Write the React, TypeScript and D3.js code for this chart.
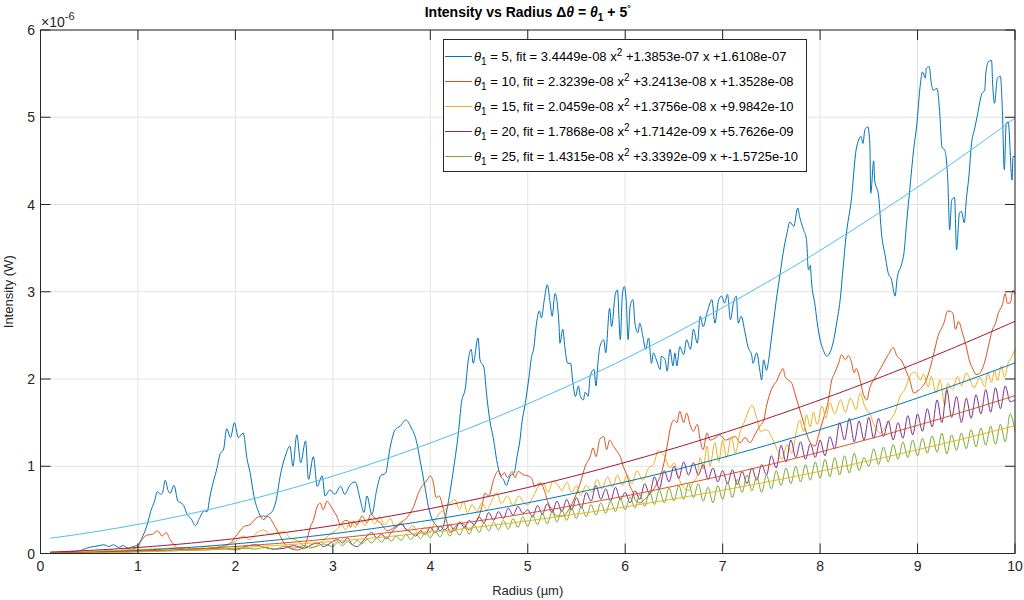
import React from "react";
import * as d3 from "d3";

// ---- data (intensity in units of 1e-6 W, radius in µm) ----
const thetaValues = [5, 10, 15, 20, 25];

const fitA = [3.4449e-8, 2.3239e-8, 2.0459e-8, 1.7868e-8, 1.4315e-8];
const fitB = [1.3853e-7, 3.2413e-8, 1.3756e-8, 1.7142e-9, 3.3392e-9];
const fitC = [1.6108e-7, 1.3528e-8, 9.9842e-10, 5.7626e-9, -1.5725e-10];

const xTicks = [0, 1, 2, 3, 4, 5, 6, 7, 8, 9, 10];
const yTicks = [0, 1, 2, 3, 4, 5, 6];

const theta5: [number, number][] = [
  [0.1, 0.01], [0.2, 0.01], [0.3, 0.02], [0.4, 0.03], [0.45, 0.05], [0.5, 0.07], [0.55, 0.08], [0.6, 0.09],
  [0.65, 0.1], [0.7, 0.08], [0.75, 0.1], [0.8, 0.07], [0.85, 0.09], [0.9, 0.06], [0.95, 0.08], [1.0, 0.1],
  [1.05, 0.2], [1.1, 0.35], [1.13, 0.48], [1.17, 0.6], [1.2, 0.71], [1.23, 0.68], [1.25, 0.69], [1.28, 0.84],
  [1.31, 0.72], [1.33, 0.69], [1.37, 0.78], [1.41, 0.6], [1.44, 0.58], [1.47, 0.55], [1.5, 0.46], [1.55, 0.39],
  [1.59, 0.32], [1.63, 0.4], [1.68, 0.49], [1.71, 0.48], [1.74, 0.66], [1.78, 0.85], [1.81, 0.97], [1.84, 1.13],
  [1.88, 1.2], [1.91, 1.43], [1.95, 1.33], [1.99, 1.5], [2.03, 1.33], [2.08, 1.38], [2.12, 1.08], [2.15, 0.93],
  [2.19, 0.66], [2.24, 0.47], [2.29, 0.39], [2.34, 0.45], [2.37, 0.47], [2.42, 0.62], [2.46, 0.89], [2.51, 1.11],
  [2.56, 1.23], [2.59, 1.0], [2.63, 1.36], [2.67, 1.04], [2.72, 1.29], [2.75, 0.85], [2.8, 1.11], [2.84, 0.77],
  [2.89, 0.89], [2.92, 0.66], [2.97, 0.73], [3.02, 0.68], [3.08, 0.77], [3.12, 0.68], [3.18, 0.79], [3.23, 0.82],
  [3.28, 0.62], [3.32, 0.47], [3.35, 0.66], [3.4, 0.45], [3.45, 0.73], [3.49, 0.89], [3.54, 0.92], [3.59, 1.23],
  [3.64, 1.42], [3.69, 1.46], [3.75, 1.53], [3.8, 1.45], [3.85, 1.32], [3.9, 1.04], [3.95, 0.73], [3.98, 0.54],
  [4.02, 0.39], [4.07, 0.31], [4.1, 0.26], [4.13, 0.3], [4.17, 0.5], [4.24, 0.98], [4.29, 1.4], [4.32, 1.73],
  [4.36, 1.9], [4.39, 2.22], [4.42, 2.34], [4.44, 2.18], [4.49, 2.47], [4.51, 2.22], [4.55, 2.13], [4.58, 1.8],
  [4.61, 1.53], [4.65, 1.3], [4.68, 1.08], [4.72, 0.89], [4.75, 0.85], [4.78, 0.78], [4.82, 0.89], [4.86, 0.92],
  [4.89, 1.11], [4.92, 1.3], [4.94, 1.5], [4.97, 1.69], [5.01, 2.0], [5.04, 2.26], [5.06, 2.34], [5.09, 2.64],
  [5.12, 2.78], [5.14, 2.7], [5.17, 2.91], [5.2, 3.08], [5.23, 2.87], [5.25, 2.72], [5.28, 2.98], [5.32, 2.64],
  [5.33, 2.41], [5.36, 2.57], [5.38, 2.37], [5.41, 2.18], [5.44, 2.18], [5.46, 1.99], [5.49, 1.8], [5.52, 1.92],
  [5.54, 1.8], [5.57, 1.76], [5.59, 1.85], [5.62, 1.8], [5.64, 2.03], [5.68, 2.11], [5.7, 1.92], [5.72, 2.18],
  [5.74, 2.37], [5.78, 2.45], [5.8, 2.3], [5.84, 2.81], [5.86, 2.6], [5.9, 2.98], [5.92, 3.02], [5.95, 2.45],
  [5.97, 2.95], [5.99, 3.06], [6.01, 2.91], [6.03, 2.45], [6.05, 2.83], [6.08, 2.91], [6.1, 2.64], [6.13, 2.53],
  [6.15, 2.64], [6.18, 2.5], [6.21, 2.34], [6.24, 2.47], [6.27, 2.18], [6.29, 2.3], [6.32, 2.22], [6.36, 2.11],
  [6.37, 2.26], [6.41, 2.22], [6.43, 2.09], [6.46, 2.34], [6.49, 2.15], [6.51, 2.3], [6.53, 2.15], [6.56, 2.37],
  [6.6, 2.28], [6.63, 2.45], [6.67, 2.34], [6.7, 2.57], [6.74, 2.41], [6.77, 2.72], [6.8, 2.6], [6.84, 2.76],
  [6.87, 2.87], [6.89, 2.91], [6.92, 2.64], [6.96, 2.91], [6.99, 2.95], [7.02, 2.87], [7.05, 2.97], [7.08, 2.68],
  [7.11, 2.87], [7.14, 2.95], [7.16, 2.64], [7.19, 2.72], [7.23, 2.53], [7.26, 2.37], [7.3, 2.26], [7.31, 2.18],
  [7.35, 2.3], [7.38, 2.11], [7.4, 1.99], [7.42, 2.22], [7.45, 2.1], [7.47, 2.2], [7.49, 2.37], [7.52, 2.64],
  [7.55, 2.9], [7.59, 3.21], [7.62, 3.44], [7.66, 3.67], [7.69, 3.8], [7.73, 3.75], [7.77, 3.96], [7.79, 3.86],
  [7.83, 3.71], [7.86, 3.6], [7.88, 3.25], [7.9, 3.3], [7.91, 3.14], [7.95, 2.83], [7.97, 2.65], [8.0, 2.45],
  [8.03, 2.34], [8.07, 2.26], [8.1, 2.3], [8.14, 2.45], [8.17, 2.64], [8.21, 2.95], [8.23, 3.2], [8.27, 3.67],
  [8.32, 4.05], [8.37, 4.63], [8.39, 4.72], [8.42, 4.78], [8.44, 4.7], [8.46, 4.86], [8.49, 4.89], [8.51, 4.7],
  [8.52, 4.13], [8.55, 4.5], [8.56, 4.28], [8.6, 4.1], [8.63, 3.67], [8.67, 3.4], [8.7, 3.21], [8.73, 3.15],
  [8.77, 2.95], [8.79, 3.15], [8.84, 3.33], [8.86, 3.44], [8.89, 3.82], [8.92, 4.17], [8.96, 4.63], [8.99, 4.89],
  [9.03, 5.39], [9.05, 5.52], [9.08, 5.45], [9.09, 5.56], [9.12, 5.58], [9.14, 5.4], [9.16, 5.31], [9.2, 5.33],
  [9.23, 5.01], [9.25, 4.66], [9.28, 4.62], [9.31, 4.28], [9.33, 3.71], [9.35, 4.05], [9.38, 4.08], [9.4, 3.48],
  [9.43, 3.9], [9.45, 3.92], [9.48, 3.79], [9.5, 4.05], [9.53, 4.36], [9.55, 4.66], [9.59, 4.89], [9.61, 5.0],
  [9.66, 5.27], [9.69, 5.31], [9.7, 5.5], [9.73, 5.64], [9.76, 5.65], [9.77, 5.4], [9.79, 5.16], [9.82, 5.45],
  [9.85, 5.47], [9.87, 5.1], [9.89, 4.4], [9.91, 4.93], [9.93, 4.95], [9.97, 4.28], [9.98, 4.55], [10.0, 4.55],
];

const theta10: [number, number][] = [
  [0.1, 0.0], [0.3, 0.01], [0.5, 0.02], [0.7, 0.03], [0.9, 0.04], [1.0, 0.08], [1.03, 0.14], [1.09, 0.21],
  [1.15, 0.22], [1.2, 0.26], [1.25, 0.2], [1.29, 0.24], [1.33, 0.16], [1.37, 0.1], [1.4, 0.07], [1.5, 0.05],
  [1.6, 0.06], [1.7, 0.05], [1.8, 0.07], [1.9, 0.09], [1.95, 0.12], [2.02, 0.22], [2.09, 0.31], [2.15, 0.33],
  [2.22, 0.41], [2.29, 0.43], [2.34, 0.42], [2.41, 0.3], [2.45, 0.22], [2.5, 0.12], [2.56, 0.06], [2.63, 0.04],
  [2.7, 0.07], [2.74, 0.18], [2.77, 0.31], [2.8, 0.38], [2.84, 0.54], [2.87, 0.58], [2.9, 0.5], [2.94, 0.6],
  [2.97, 0.56], [3.0, 0.5], [3.04, 0.43], [3.08, 0.33], [3.11, 0.37], [3.15, 0.38], [3.18, 0.3], [3.21, 0.37],
  [3.25, 0.33], [3.3, 0.43], [3.35, 0.35], [3.39, 0.45], [3.44, 0.39], [3.49, 0.35], [3.56, 0.26], [3.63, 0.3],
  [3.69, 0.35], [3.76, 0.41], [3.83, 0.54], [3.88, 0.7], [3.92, 0.78], [3.96, 0.83], [4.0, 0.89], [4.03, 0.82],
  [4.06, 0.64], [4.09, 0.66], [4.14, 0.48], [4.17, 0.36], [4.2, 0.24], [4.25, 0.3], [4.3, 0.35], [4.35, 0.33],
  [4.4, 0.27], [4.45, 0.33], [4.49, 0.4], [4.53, 0.54], [4.56, 0.69], [4.6, 0.66], [4.65, 0.85], [4.7, 0.95],
  [4.73, 0.89], [4.76, 0.93], [4.79, 0.87], [4.84, 0.94], [4.87, 0.87], [4.9, 0.94], [4.96, 0.9], [5.0, 0.89],
  [5.04, 0.86], [5.07, 0.77], [5.13, 0.81], [5.18, 0.69], [5.21, 0.58], [5.25, 0.5], [5.3, 0.43], [5.36, 0.43],
  [5.42, 0.5], [5.49, 0.66], [5.54, 0.81], [5.59, 1.0], [5.64, 1.11], [5.67, 1.21], [5.7, 1.11], [5.74, 1.31],
  [5.78, 1.34], [5.81, 1.19], [5.84, 1.3], [5.88, 1.23], [5.91, 1.18], [5.95, 1.11], [5.98, 1.0], [6.02, 0.89],
  [6.05, 0.77], [6.08, 0.7], [6.1, 0.62], [6.15, 0.58], [6.2, 0.62], [6.26, 0.69], [6.31, 0.77], [6.36, 0.89],
  [6.39, 1.0], [6.43, 1.23], [6.46, 1.42], [6.5, 1.53], [6.53, 1.5], [6.56, 1.63], [6.6, 1.5], [6.63, 1.61],
  [6.67, 1.46], [6.7, 1.4], [6.74, 1.48], [6.77, 1.3], [6.8, 1.19], [6.84, 1.38], [6.87, 1.3], [6.92, 1.32],
  [6.97, 1.36], [7.03, 1.3], [7.08, 1.32], [7.13, 1.34], [7.18, 1.27], [7.23, 1.33], [7.28, 1.27], [7.33, 1.36],
  [7.38, 1.46], [7.42, 1.52], [7.45, 1.69], [7.5, 1.88], [7.56, 1.99], [7.59, 2.07], [7.62, 2.12], [7.64, 2.03],
  [7.67, 1.99], [7.71, 1.95], [7.74, 1.84], [7.78, 1.69], [7.83, 1.5], [7.86, 1.38], [7.9, 1.27], [7.95, 1.23],
  [7.98, 1.34], [8.03, 1.53], [8.08, 1.73], [8.12, 1.99], [8.15, 2.07], [8.19, 2.18], [8.22, 2.28], [8.26, 2.22],
  [8.29, 2.27], [8.32, 2.2], [8.35, 2.07], [8.37, 2.12], [8.41, 1.99], [8.44, 1.84], [8.48, 1.76], [8.51, 1.9],
  [8.55, 1.99], [8.6, 2.08], [8.65, 2.18], [8.7, 2.28], [8.75, 2.36], [8.79, 2.26], [8.82, 2.23], [8.85, 2.18],
  [8.89, 2.07], [8.92, 1.99], [8.96, 1.84], [9.02, 1.88], [9.09, 1.99], [9.16, 2.26], [9.21, 2.49], [9.27, 2.64],
  [9.31, 2.78], [9.36, 2.76], [9.39, 2.57], [9.42, 2.66], [9.46, 2.53], [9.5, 2.37], [9.53, 2.22], [9.57, 2.11],
  [9.6, 2.05], [9.64, 2.07], [9.69, 2.2], [9.72, 2.34], [9.77, 2.57], [9.8, 2.64], [9.83, 2.76], [9.87, 2.85],
  [9.9, 2.98], [9.92, 2.87], [9.95, 2.87], [9.97, 2.98], [9.98, 3.02], [10.0, 2.97],
];

const theta15: [number, number][] = [
  [0.1, 0.0], [0.3, 0.01], [0.5, 0.02], [0.7, 0.03], [0.9, 0.04], [1.1, 0.05], [1.3, 0.06], [1.5, 0.07],
  [1.6, 0.05], [1.7, 0.08], [1.8, 0.06], [1.9, 0.1], [2.0, 0.14], [2.08, 0.2], [2.15, 0.16], [2.22, 0.24],
  [2.29, 0.27], [2.36, 0.22], [2.43, 0.24], [2.5, 0.25], [2.56, 0.18], [2.63, 0.15], [2.7, 0.09], [2.77, 0.06],
  [2.84, 0.1], [2.9, 0.15], [2.97, 0.22], [3.04, 0.27], [3.09, 0.33], [3.13, 0.27], [3.18, 0.37], [3.23, 0.3],
  [3.28, 0.4], [3.33, 0.32], [3.38, 0.41], [3.43, 0.34], [3.48, 0.42], [3.53, 0.33], [3.59, 0.4], [3.64, 0.3],
  [3.7, 0.36], [3.76, 0.26], [3.82, 0.32], [3.88, 0.22], [3.94, 0.3], [4.0, 0.25], [4.05, 0.38], [4.1, 0.47],
  [4.15, 0.5], [4.2, 0.58], [4.25, 0.62], [4.3, 0.5], [4.34, 0.6], [4.38, 0.47], [4.43, 0.56], [4.48, 0.48],
  [4.53, 0.58], [4.58, 0.5], [4.63, 0.6], [4.68, 0.7], [4.73, 0.57], [4.79, 0.66], [4.85, 0.55], [4.91, 0.66],
  [4.96, 0.58], [5.0, 0.56], [5.06, 0.66], [5.11, 0.77], [5.16, 0.8], [5.21, 0.7], [5.26, 0.83], [5.31, 0.78],
  [5.35, 0.72], [5.4, 0.82], [5.45, 0.7], [5.5, 0.78], [5.54, 0.66], [5.6, 0.78], [5.66, 0.7], [5.71, 0.85],
  [5.76, 0.74], [5.82, 0.88], [5.87, 0.76], [5.92, 0.9], [5.97, 0.78], [6.02, 0.9], [6.07, 0.8], [6.12, 0.95],
  [6.18, 0.84], [6.24, 0.98], [6.29, 1.02], [6.34, 1.18], [6.4, 1.12], [6.46, 0.98], [6.5, 1.04], [6.55, 0.86],
  [6.6, 0.76], [6.65, 0.72], [6.7, 0.82], [6.74, 0.9], [6.77, 1.1], [6.8, 0.97], [6.84, 1.23], [6.87, 1.0],
  [6.92, 1.27], [6.96, 1.05], [7.0, 1.3], [7.04, 1.1], [7.09, 1.34], [7.13, 1.15], [7.18, 1.4], [7.22, 1.5],
  [7.26, 1.62], [7.3, 1.7], [7.35, 1.55], [7.39, 1.4], [7.45, 1.42], [7.5, 1.34], [7.56, 1.19], [7.61, 1.08],
  [7.66, 1.25], [7.71, 1.15], [7.76, 1.42], [7.79, 1.53], [7.83, 1.4], [7.86, 1.59], [7.9, 1.45], [7.93, 1.62],
  [7.97, 1.48], [8.02, 1.69], [8.06, 1.55], [8.1, 1.73], [8.15, 1.6], [8.21, 1.76], [8.26, 1.62], [8.31, 1.78],
  [8.37, 1.65], [8.41, 1.84], [8.46, 1.68], [8.51, 1.6], [8.56, 1.46], [8.62, 1.38], [8.67, 1.45], [8.72, 1.53],
  [8.77, 1.62], [8.82, 1.8], [8.87, 1.88], [8.92, 2.03], [8.97, 2.08], [9.03, 1.99], [9.06, 2.06], [9.11, 1.91],
  [9.14, 2.03], [9.19, 1.84], [9.23, 1.99], [9.28, 1.7], [9.31, 1.95], [9.36, 1.88], [9.41, 2.03], [9.45, 1.92],
  [9.5, 2.07], [9.55, 1.96], [9.58, 1.9], [9.64, 2.02], [9.69, 1.91], [9.72, 2.07], [9.76, 1.96], [9.79, 2.1],
  [9.82, 1.98], [9.86, 2.15], [9.89, 2.02], [9.93, 2.18], [9.97, 2.26], [10.0, 2.34],
];

const theta20: [number, number][] = [
  [0.1, 0.0], [0.3, 0.005], [0.5, 0.01], [0.7, 0.015], [0.9, 0.02], [1.1, 0.03], [1.3, 0.035], [1.5, 0.04],
  [1.7, 0.05], [1.9, 0.06], [2.0, 0.05], [2.1, 0.08], [2.2, 0.1], [2.3, 0.07], [2.4, 0.05], [2.5, 0.06],
  [2.6, 0.09], [2.7, 0.06], [2.8, 0.11], [2.85, 0.12], [2.9, 0.08], [2.95, 0.1], [3.0, 0.14], [3.05, 0.16],
  [3.1, 0.12], [3.15, 0.18], [3.2, 0.1], [3.25, 0.08], [3.3, 0.13], [3.35, 0.2], [3.4, 0.24], [3.45, 0.18],
  [3.5, 0.22], [3.55, 0.17], [3.6, 0.24], [3.65, 0.3], [3.7, 0.34], [3.75, 0.28], [3.8, 0.24], [3.85, 0.2],
  [3.9, 0.26], [3.95, 0.22], [4.0, 0.3], [4.05, 0.24], [4.1, 0.31], [4.15, 0.27], [4.2, 0.33], [4.25, 0.26],
  [4.3, 0.36], [4.35, 0.3], [4.4, 0.38], [4.45, 0.33], [4.5, 0.42], [4.55, 0.35], [4.6, 0.47], [4.65, 0.38],
  [4.7, 0.48], [4.75, 0.4], [4.8, 0.52], [4.85, 0.44], [4.9, 0.54], [4.95, 0.46], [5.0, 0.5], [5.05, 0.42],
  [5.1, 0.55], [5.15, 0.45], [5.2, 0.57], [5.25, 0.47], [5.3, 0.6], [5.35, 0.48], [5.4, 0.62], [5.45, 0.5],
  [5.5, 0.64], [5.55, 0.52], [5.6, 0.7], [5.65, 0.6], [5.7, 0.78], [5.75, 0.62], [5.8, 0.74], [5.85, 0.6],
  [5.9, 0.76], [5.95, 0.62], [6.0, 0.7], [6.05, 0.58], [6.1, 0.72], [6.15, 0.62], [6.2, 0.8], [6.25, 0.68],
  [6.3, 0.88], [6.35, 0.74], [6.4, 0.95], [6.45, 0.82], [6.5, 1.0], [6.55, 0.86], [6.6, 1.05], [6.65, 0.9],
  [6.7, 1.04], [6.75, 0.9], [6.8, 1.02], [6.85, 0.85], [6.9, 0.98], [6.95, 0.82], [7.0, 0.95], [7.05, 0.8],
  [7.1, 0.96], [7.15, 0.79], [7.2, 0.94], [7.25, 0.8], [7.3, 0.98], [7.35, 0.84], [7.4, 1.02], [7.45, 0.9],
  [7.5, 1.12], [7.55, 0.98], [7.6, 1.24], [7.65, 1.05], [7.7, 1.3], [7.75, 1.1], [7.8, 1.28], [7.85, 1.08],
  [7.9, 1.26], [7.95, 1.1], [8.0, 1.3], [8.05, 1.12], [8.1, 1.34], [8.15, 1.2], [8.2, 1.5], [8.25, 1.3],
  [8.3, 1.55], [8.35, 1.28], [8.4, 1.52], [8.45, 1.3], [8.5, 1.56], [8.55, 1.32], [8.6, 1.55], [8.65, 1.34],
  [8.7, 1.52], [8.75, 1.3], [8.8, 1.5], [8.85, 1.32], [8.9, 1.58], [8.95, 1.36], [9.0, 1.6], [9.05, 1.4],
  [9.1, 1.66], [9.15, 1.45], [9.2, 1.76], [9.25, 1.5], [9.3, 1.88], [9.35, 1.56], [9.4, 1.8], [9.45, 1.5],
  [9.5, 1.78], [9.55, 1.55], [9.6, 1.82], [9.65, 1.6], [9.7, 1.88], [9.75, 1.62], [9.8, 1.9], [9.85, 1.66],
  [9.9, 1.92], [9.95, 1.74], [10.0, 1.76],
];

const theta25: [number, number][] = [
  [0.1, 0.0], [0.3, 0.005], [0.5, 0.01], [0.7, 0.015], [0.9, 0.02], [1.1, 0.025], [1.3, 0.03], [1.5, 0.035],
  [1.7, 0.04], [1.9, 0.05], [2.0, 0.04], [2.1, 0.06], [2.2, 0.05], [2.3, 0.07], [2.4, 0.05], [2.5, 0.08],
  [2.6, 0.06], [2.7, 0.09], [2.8, 0.07], [2.9, 0.11], [3.0, 0.08], [3.05, 0.13], [3.1, 0.09], [3.15, 0.14],
  [3.2, 0.1], [3.25, 0.15], [3.3, 0.11], [3.35, 0.16], [3.4, 0.12], [3.45, 0.18], [3.5, 0.13], [3.55, 0.19],
  [3.6, 0.14], [3.65, 0.2], [3.7, 0.15], [3.75, 0.22], [3.8, 0.16], [3.85, 0.23], [3.9, 0.17], [3.95, 0.25],
  [4.0, 0.18], [4.05, 0.26], [4.1, 0.19], [4.15, 0.28], [4.2, 0.2], [4.25, 0.29], [4.3, 0.21], [4.35, 0.31],
  [4.4, 0.22], [4.45, 0.33], [4.5, 0.24], [4.55, 0.35], [4.6, 0.26], [4.65, 0.36], [4.7, 0.27], [4.75, 0.38],
  [4.8, 0.28], [4.85, 0.4], [4.9, 0.3], [4.95, 0.42], [5.0, 0.31], [5.05, 0.44], [5.1, 0.33], [5.15, 0.46],
  [5.2, 0.34], [5.25, 0.48], [5.3, 0.36], [5.35, 0.5], [5.4, 0.38], [5.45, 0.52], [5.5, 0.4], [5.55, 0.54],
  [5.6, 0.42], [5.65, 0.56], [5.7, 0.44], [5.75, 0.58], [5.8, 0.46], [5.85, 0.6], [5.9, 0.48], [5.95, 0.63],
  [6.0, 0.5], [6.05, 0.65], [6.1, 0.52], [6.15, 0.68], [6.2, 0.54], [6.25, 0.71], [6.3, 0.56], [6.35, 0.73],
  [6.4, 0.58], [6.45, 0.75], [6.5, 0.6], [6.55, 0.78], [6.6, 0.62], [6.65, 0.8], [6.7, 0.64], [6.75, 0.8],
  [6.8, 0.6], [6.85, 0.76], [6.9, 0.58], [6.95, 0.78], [7.0, 0.62], [7.05, 0.82], [7.1, 0.64], [7.15, 0.85],
  [7.2, 0.7], [7.25, 0.9], [7.3, 0.72], [7.35, 0.88], [7.4, 0.7], [7.45, 0.9], [7.5, 0.74], [7.55, 0.95],
  [7.6, 0.78], [7.65, 0.98], [7.7, 0.8], [7.75, 1.0], [7.8, 0.82], [7.85, 1.02], [7.9, 0.84], [7.95, 1.05],
  [8.0, 0.86], [8.05, 1.08], [8.1, 0.88], [8.15, 1.1], [8.2, 0.9], [8.25, 1.12], [8.3, 0.92], [8.35, 1.15],
  [8.4, 0.95], [8.45, 1.1], [8.5, 1.0], [8.55, 1.2], [8.6, 1.02], [8.65, 1.22], [8.7, 1.05], [8.75, 1.25],
  [8.8, 1.08], [8.85, 1.28], [8.9, 1.1], [8.95, 1.3], [9.0, 1.12], [9.05, 1.32], [9.1, 1.15], [9.15, 1.35],
  [9.2, 1.16], [9.25, 1.38], [9.3, 1.14], [9.35, 1.36], [9.4, 1.18], [9.45, 1.38], [9.5, 1.2], [9.55, 1.42],
  [9.6, 1.22], [9.65, 1.44], [9.7, 1.24], [9.75, 1.46], [9.8, 1.25], [9.85, 1.48], [9.9, 1.28], [9.95, 1.6],
  [10.0, 1.4],
];

const seriesData = [theta5, theta10, theta15, theta20, theta25];
const dataColors = ["#0072BD", "#D95319", "#EDB120", "#7E2F8E", "#77AC30"];
const fitColors = ["#4DBEEE", "#A2142F", "#0072BD", "#D95319", "#EDB120"];

// ---- layout ----
const W = 1024;
const H = 600;
const left = 40.5;
const right = 1015;
const top = 30;
const bottom = 553.5;
const FONT = "'Liberation Sans', Arial, Helvetica, sans-serif";
const AXIS = "#262626";
const GRID = "#e3e3e3";

// MATLAB-style "%.4e" with a two-digit exponent
function fmtE(v: number): string {
  const [m, e] = v.toExponential(4).split("e");
  const sign = e[0] === "-" ? "-" : "+";
  const digits = e.replace(/^[+-]/, "").padStart(2, "0");
  return `${m}e${sign}${digits}`;
}

export default function App() {
  const x = d3.scaleLinear().domain([0, 10]).range([left, right]);
  const y = d3.scaleLinear().domain([0, 6]).range([bottom, top]);
  const dataLine = d3
    .line<[number, number]>()
    .curve(d3.curveMonotoneX)
    .x((d) => x(d[0]))
    .y((d) => y(d[1]));
  const fitLine = d3
    .line<[number, number]>()
    .x((d) => x(d[0]))
    .y((d) => y(d[1]));

  // quadratic fits evaluated from the printed coefficients (scaled to 1e-6 W)
  const fitX = d3.range(0.1, 10.0001, 0.05);
  const fitCurves = thetaValues.map((_, i) =>
    fitX.map((r) => [r, (fitA[i] * r * r + fitB[i] * r + fitC[i]) * 1e6] as [number, number])
  );

  const legendX = 443.5;
  const legendY = 39.5;
  const legendW = 363;
  const legendH = 132;
  const rowY = (i: number) => 56.5 + i * 25;

  return (
    <svg
      width={W}
      height={H}
      style={{ position: "absolute", left: 0, top: 0, background: "#fff" }}
      fontFamily={FONT}
    >
      <rect x={0} y={0} width={W} height={H} fill="#fff" />
      {/* grid */}
      {xTicks.map((t) => (
        <line key={"gx" + t} x1={x(t)} x2={x(t)} y1={top} y2={bottom} stroke={GRID} strokeWidth={1} />
      ))}
      {yTicks.map((t) => (
        <line key={"gy" + t} x1={left} x2={right} y1={y(t)} y2={y(t)} stroke={GRID} strokeWidth={1} />
      ))}

      {/* measured intensity */}
      {seriesData.map((s, i) => (
        <path key={"d" + i} d={dataLine(s) || ""} fill="none" stroke={dataColors[i]} strokeWidth={1} strokeLinejoin="round" />
      ))}
      {/* quadratic fits */}
      {fitCurves.map((s, i) => (
        <path key={"f" + i} d={fitLine(s) || ""} fill="none" stroke={fitColors[i]} strokeWidth={1} />
      ))}

      {/* axes box */}
      <rect x={left} y={top} width={right - left} height={bottom - top} fill="none" stroke={AXIS} strokeWidth={1} />
      {xTicks.map((t) => (
        <g key={"tx" + t}>
          <line x1={x(t)} x2={x(t)} y1={bottom} y2={bottom - 10} stroke={AXIS} />
          <line x1={x(t)} x2={x(t)} y1={top} y2={top + 10} stroke={AXIS} />
          <text x={x(t)} y={571} textAnchor="middle" fontSize={14} fill={AXIS}>
            {t}
          </text>
        </g>
      ))}
      {yTicks.map((t) => (
        <g key={"ty" + t}>
          <line x1={left} x2={left + 10} y1={y(t)} y2={y(t)} stroke={AXIS} />
          <line x1={right} x2={right - 10} y1={y(t)} y2={y(t)} stroke={AXIS} />
          <text x={35} y={y(t) + 5} textAnchor="end" fontSize={14} fill={AXIS}>
            {t}
          </text>
        </g>
      ))}

      {/* exponent */}
      <text x={41} y={27} fontSize={14} fill={AXIS}>
        ×10
        <tspan dy={-7} fontSize={11}>
          -6
        </tspan>
      </text>

      {/* title */}
      <text x={(left + right) / 2} y={17} textAnchor="middle" fontSize={14} fontWeight="bold" fill="#000">
        Intensity vs Radius Δ<tspan fontStyle="italic">θ</tspan> = <tspan fontStyle="italic">θ</tspan>
        <tspan dy={4} fontSize={10}>
          1
        </tspan>
        <tspan dy={-4}> + 5</tspan>
        <tspan dy={-6} fontSize={9}>
          °
        </tspan>
      </text>

      {/* axis labels */}
      <text x={(left + right) / 2} y={595} textAnchor="middle" fontSize={13} fill={AXIS}>
        Radius (µm)
      </text>
      <text transform={`translate(13, ${(top + bottom) / 2}) rotate(-90)`} textAnchor="middle" fontSize={13} fill={AXIS}>
        Intensity (W)
      </text>

      {/* legend */}
      <rect x={legendX} y={legendY} width={legendW} height={legendH} fill="#fff" stroke={AXIS} strokeWidth={1} />
      {thetaValues.map((th, i) => (
        <g key={"lg" + i}>
          <line x1={445} x2={472} y1={rowY(i)} y2={rowY(i)} stroke={dataColors[i]} strokeWidth={1} />
          <text x={474} y={rowY(i) + 4.5} fontSize={13} fill="#000">
            <tspan fontStyle="italic">θ</tspan>
            <tspan dy={4} fontSize={10}>
              1
            </tspan>
            <tspan dy={-4}>{` = ${th}, fit = ${fmtE(fitA[i])} x`}</tspan>
            <tspan dy={-5} fontSize={10}>
              2
            </tspan>
            <tspan dy={5}>{` +${fmtE(fitB[i])} x +${fmtE(fitC[i])}`}</tspan>
          </text>
        </g>
      ))}
    </svg>
  );
}
